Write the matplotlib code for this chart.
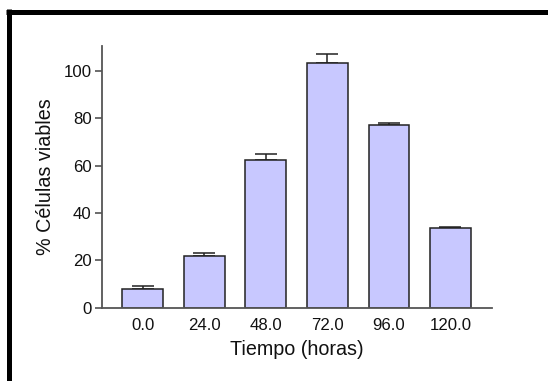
import matplotlib
matplotlib.use("Agg")
import matplotlib.pyplot as plt
from matplotlib.lines import Line2D
import numpy as np

plt.rcParams['font.family'] = ['Liberation Sans', 'DejaVu Sans']

categories = ["0.0", "24.0", "48.0", "72.0", "96.0", "120.0"]
values = [7.9, 21.8, 62.5, 103.4, 77.1, 33.5]
errors = [1.3, 1.1, 2.5, 3.6, 1.0, 0.5]
yticks = [0, 20, 40, 60, 80, 100]

W, H = 548, 381
fig = plt.figure(figsize=(W / 100, H / 100), dpi=100)
ax = fig.add_axes([102 / W, 1 - 307.5 / H, (491.7 - 102) / W, (307.5 - 46) / H])

x = np.arange(len(categories))
ax.bar(x, values, width=0.66, color='#C8C8FF', edgecolor='#222222', linewidth=1.1, zorder=2)
ax.errorbar(x, values, yerr=[np.zeros(len(errors)), errors], fmt='none',
            ecolor='#222222', elinewidth=1.1, capsize=7.8, capthick=1.1, zorder=1)

ax.set_xlim(-0.66, 5.67)
ax.set_ylim(0, 110.5)
ax.set_xticks(x)
ax.set_xticklabels(categories, fontsize=12.1, color='#111111')
ax.set_yticks(yticks)
ax.set_yticklabels([str(t) for t in yticks], fontsize=12.1, color='#111111')
ax.tick_params(axis='x', length=0, pad=7.5)
ax.tick_params(axis='y', length=5, width=1.1, color='#444444', direction='out', pad=2.5)

for s in ['top', 'right']:
    ax.spines[s].set_visible(False)
for s in ['left', 'bottom']:
    ax.spines[s].set_color('#555555')
    ax.spines[s].set_linewidth(1.3)

ax.set_xlabel('Tiempo (horas)', fontsize=14.2, color='#111111', labelpad=5)
ax.set_ylabel('% Células viables', fontsize=14.2, color='#111111', labelpad=6)

# figure border (top and left)
fig.add_artist(Line2D([6 / W, 1.0], [1 - 11.5 / H, 1 - 11.5 / H], transform=fig.transFigure,
                      color='black', linewidth=3.6, solid_capstyle='butt'))
fig.add_artist(Line2D([8.5 / W, 8.5 / W], [1 - 9 / H, 0.0], transform=fig.transFigure,
                      color='black', linewidth=3.6, solid_capstyle='butt'))

fig.savefig('out.png', dpi=100)
